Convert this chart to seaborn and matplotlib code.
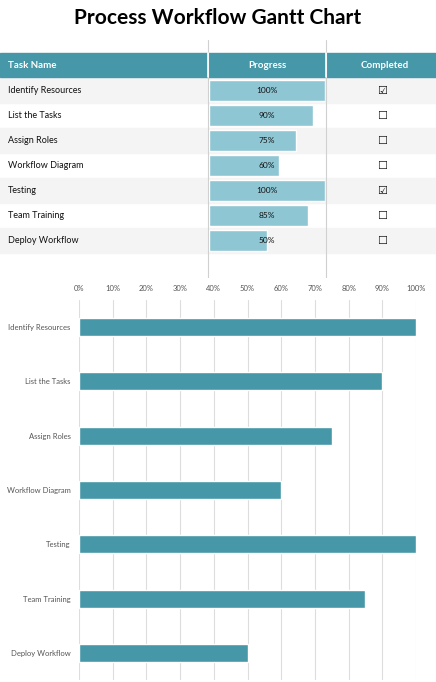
import matplotlib
matplotlib.use("Agg")
import matplotlib.pyplot as plt
import seaborn as sns
import pandas as pd
from matplotlib.patches import Rectangle

tasks = ["Identify Resources", "List the Tasks", "Assign Roles", "Workflow Diagram",
         "Testing", "Team Training", "Deploy Workflow"]
progress = [100, 90, 75, 60, 100, 85, 50]
completed = [True, False, False, False, True, False, False]
ticks = [0, 10, 20, 30, 40, 50, 60, 70, 80, 90, 100]
headers = ["Task Name", "Progress", "Completed"]

df = pd.DataFrame({"task": tasks, "progress": progress})
sns.set_style("white")
plt.rcParams['font.family'] = ['Lato', 'DejaVu Sans']

W, H = 436, 682
fig = plt.figure(figsize=(W/100, H/100), dpi=100)
teal = "#4697a8"
light = "#8fc6d4"

def fx(x): return x / W
def fy(y): return 1 - y / H

fig.text(0.5, fy(18), "Process Workflow Gantt Chart", ha="center", va="center",
         fontsize=15, fontweight="bold", color="black")

# table background
ax_t = fig.add_axes([0, fy(278), 1, (278-40)/H])
ax_t.set_xlim(0, W); ax_t.set_ylim(278, 40); ax_t.axis("off")
ax_t.add_patch(Rectangle((0, 53), W, 24, color=teal))
for x in (208, 326):
    ax_t.plot([x, x], [40, 278], color="#d0d0d0", lw=0.8)
    ax_t.plot([x, x], [53, 77], color="white", lw=1.2)
ax_t.text(8, 65, headers[0], color="white", fontsize=7, fontweight="bold", va="center")
ax_t.text(267, 65, headers[1], color="white", fontsize=7, fontweight="bold", va="center", ha="center")
ax_t.text(385, 65, headers[2], color="white", fontsize=7, fontweight="bold", va="center", ha="center")
for i, (t, c) in enumerate(zip(tasks, completed)):
    top = 78 + 25 * i
    if i % 2 == 0:
        ax_t.add_patch(Rectangle((0, top), W, 25, color="#f4f4f4", zorder=0))
    ax_t.text(8, top + 12.5, t, fontsize=6.5, va="center", color="#111")
    ax_t.text(382, top + 12.5, "☑" if c else "☐", fontsize=8, va="center", ha="center",
              family="DejaVu Sans", color="#111")

# progress bars in table
ax_p = fig.add_axes([fx(209), fy(253), 116/W, (253-78)/H])
sns.barplot(data=df, x="progress", y="task", orient="h", color=light, width=0.85,
            saturation=1, ax=ax_p)
ax_p.set_xlim(0, 100); ax_p.axis("off"); ax_p.patch.set_alpha(0)
for i, p in enumerate(progress):
    ax_p.text(50, i, f"{p}%", ha="center", va="center", fontsize=6, color="#111")

# gantt chart
ax = fig.add_axes([fx(79), fy(680), (416-79)/W, (680-300)/H])
sns.barplot(data=df, x="progress", y="task", orient="h", color=teal, width=0.33,
            saturation=1, ax=ax, zorder=3)
ax.set_xlim(0, 100)
ax.set_ylim(6.5, -0.5)
ax.set_xticks(ticks)
ax.set_xticklabels([f"{t}%" for t in ticks])
ax.xaxis.tick_top()
ax.tick_params(axis="both", labelsize=5.5, colors="#555", length=0, pad=6)
ax.set_xlabel(""); ax.set_ylabel("")
ax.grid(axis="x", color="#dddddd", lw=0.8, zorder=0)
for s in ax.spines.values():
    s.set_visible(False)

fig.savefig("out.png", dpi=100)
